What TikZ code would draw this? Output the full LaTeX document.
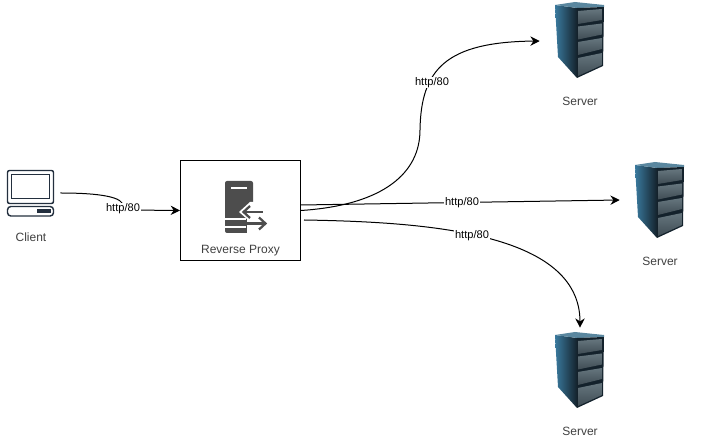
\documentclass[tikz,border=0pt]{standalone}
\usepackage{fontspec}
\setmainfont{Liberation Sans}
\usetikzlibrary{arrows.meta}
\definecolor{inkgrey}{HTML}{4D4D4D}
\definecolor{clientblue}{HTML}{232F3E}
\definecolor{rackdark}{HTML}{14222C}
\definecolor{rackmid}{HTML}{1F4358}
\definecolor{rackblue}{HTML}{3A7A9E}
\definecolor{racktop}{HTML}{5A879F}
\definecolor{panellight}{HTML}{66767E}
\definecolor{paneldark}{HTML}{3F4C54}
\tikzset{
  wire/.style={draw=black, -{Stealth[length=7pt,width=7pt]}, line width=0.75pt},
  wirelabel/.style={fill=white, inner sep=0.5pt, font=\fontsize{8.3}{9}\selectfont},
  caption/.style={font=\fontsize{9}{9}\selectfont, text=black!75},
  serverspot/.style={minimum width=60pt, minimum height=63pt, inner sep=0pt},
  serverrack/.pic={
    % left face
    \shade[left color=rackblue, middle color=rackmid, right color=rackdark] (-25,-36) -- (-3,-33) -- (-3,37) -- (-22,16) -- cycle;
    % top
    \fill[racktop] (-25,-36) -- (-5,-39) -- (24,-36) -- (24,-34) -- (-3,-33) -- cycle;
    % front face
    \fill[rackdark] (-3,-33) -- (24,-34) -- (23,25) -- (-3,37) -- cycle;
    % four panels
    \foreach \row in {0,1,2} {
      \shade[top color=panellight, bottom color=paneldark] (-2,-30+\row*15.5) -- (22,-32+\row*14.5) -- (22,-21+\row*14.5) -- (-2,-17+\row*15.5) -- cycle;
    }
    \shade[top color=panellight, bottom color=paneldark] (-2,17) -- (22,12) -- (22,24) -- (-2,35) -- cycle;
  }
}
\begin{document}
\begin{tikzpicture}[x=0.75pt, y=-0.75pt]
  \useasboundingbox (0,0) rectangle (701,441);
  % client
  \node[minimum width=43.5pt, minimum height=36pt, inner sep=0pt] (client) at (31,193) {};
  \draw[clientblue, line width=1.1pt, rounded corners=1.5pt] (7.5,170.5) rectangle (53.5,203.5);
  \draw[clientblue, line width=1.1pt] (11.5,174.5) rectangle (49.5,198.5);
  \draw[clientblue, line width=1.1pt, rounded corners=2.5pt] (7.5,206.5) rectangle (53.5,216);
  \fill[clientblue] (37,209) rectangle (51,213);
  \node[caption] (clientname) at (31,237) {Client};
  % reverse proxy
  \node[draw=black, line width=0.75pt, minimum width=90pt, minimum height=75pt, inner sep=0pt] (proxy) at (240.5,210.5) {};
  \fill[inkgrey, rounded corners=1.5pt] (225,181) rectangle (253,233);
  \fill[white] (231,187.5) rectangle (247,189.5);
  \fill[white] (225,218.5) rectangle (246,220);
  \fill[white] (225,226.5) rectangle (246,228);
  \fill[white] (250,202) -- (239,212) -- (247,219) -- (247,234) -- (254,234) -- (254,202) -- cycle;
  \draw[inkgrey, line width=1.7pt] (244,212) -- (263,212);
  \draw[inkgrey, line width=1.7pt] (250,206) -- (243.5,212) -- (250,218);
  \draw[inkgrey, line width=1.7pt] (246,223.5) -- (265,223.5);
  \draw[inkgrey, line width=1.7pt] (259,217.5) -- (265.5,223.5) -- (259,229.5);
  \node[caption] (proxyname) at (240.5,251) {Reverse Proxy};
  % servers
  \node[serverspot] (srvtop) at (580,41) {};
  \node[serverspot] (srvmid) at (660,200) {};
  \node[serverspot] (srvlow) at (580,370) {};
  \pic at (580,41) {serverrack};
  \pic at (660,201) {serverrack};
  \pic at (580,371) {serverrack};
  \node[caption] (srvtopname) at (580,101) {Server};
  \node[caption] (srvmidname) at (660,261) {Server};
  \node[caption] (srvlowname) at (580,431) {Server};
  % wires
  \draw[wire] (client.east) .. controls (100,193) and (125,197) .. (123,207) .. controls (124,211) and (150,210) .. (proxy.west);
  \draw[wire] (proxy.east) .. controls (385,205) and (420,172) .. (420,130) .. controls (421,70) and (445,42) .. (srvtop.west);
  \draw[wire] (proxy.east) ++(0,-5.5) -- (srvmid.west);
  \draw[wire] (proxy.east) ++(3,9.5) .. controls (425,222) and (580,232) .. (srvlow.north);
  \node[wirelabel] (lbla) at (123,208.5) {http/80};
  \node[wirelabel] (lblb) at (432,82.5) {http/80};
  \node[wirelabel] (lblc) at (462,202.5) {http/80};
  \node[wirelabel] (lbld) at (472,235.5) {http/80};
\end{tikzpicture}
\end{document}
